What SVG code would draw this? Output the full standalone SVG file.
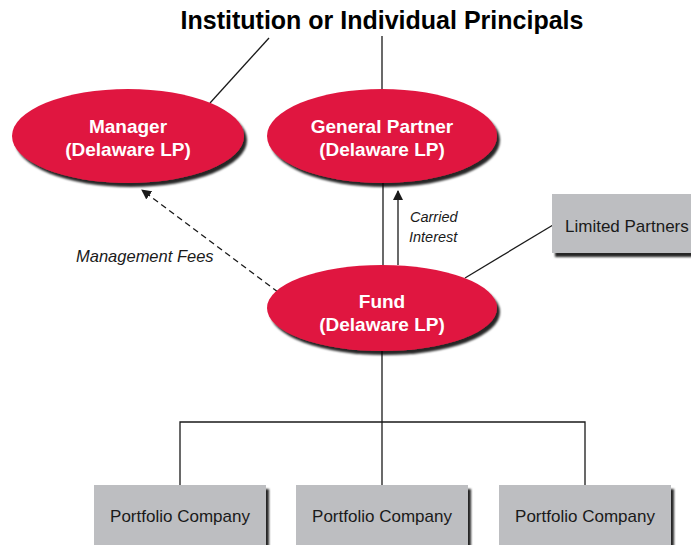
<svg xmlns="http://www.w3.org/2000/svg" width="691" height="545" viewBox="0 0 691 545">
<defs>
<style>
.ell{fill:#E0163F;}
.box{fill:#BDBEC1;}
.ln{stroke:#1a1a1a;stroke-width:1.3;fill:none;}
.dash{stroke:#1a1a1a;stroke-width:1.3;fill:none;stroke-dasharray:6 4;}
.et{font-family:"Liberation Sans",Arial,sans-serif;font-weight:bold;font-size:19px;fill:#fff;text-anchor:middle;}
.bt{font-family:"Liberation Sans",Arial,sans-serif;font-size:17px;fill:#1a1a1a;}
.it{font-family:"Liberation Sans",Arial,sans-serif;font-style:italic;fill:#1a1a1a;}
</style>
<filter id="sh" x="-10%" y="-10%" width="125%" height="130%">
<feDropShadow dx="3" dy="4" stdDeviation="1" flood-color="#000" flood-opacity="0.85"/>
</filter>
<marker id="ah" viewBox="0 0 10 10" refX="9" refY="5" markerWidth="10" markerHeight="10" markerUnits="userSpaceOnUse" orient="auto">
<path d="M0,0 L10,5 L0,10 Z" fill="#1a1a1a"/>
</marker>
</defs>
<rect width="691" height="545" fill="#fff"/>
<text x="382" y="29" font-family="'Liberation Sans',Arial,sans-serif" font-weight="bold" font-size="25" text-anchor="middle" fill="#000">Institution or Individual Principals</text>
<g id="connectors">
<line class="ln" x1="269" y1="38" x2="210" y2="103"/>
<line class="ln" x1="382" y1="36" x2="382" y2="90"/>
<line class="ln" x1="383" y1="183" x2="383" y2="266"/>
<line class="ln" x1="398" y1="265" x2="398" y2="191" marker-end="url(#ah)"/>
<line class="dash" x1="278" y1="292" x2="142" y2="190" marker-end="url(#ah)"/>
<line class="ln" x1="553" y1="225" x2="465" y2="278"/>
<line class="ln" x1="382" y1="350" x2="382" y2="485"/>
<polyline class="ln" points="180,485 180,422 585,422 585,485"/>
</g>
<g id="manager">
<ellipse class="ell" cx="128" cy="136" rx="116" ry="47" filter="url(#sh)"/>
<text class="et" x="128" y="133">Manager</text>
<text class="et" x="128" y="156">(Delaware LP)</text>
</g>
<g id="general-partner">
<ellipse class="ell" cx="382" cy="136" rx="115" ry="47" filter="url(#sh)"/>
<text class="et" x="382" y="133">General Partner</text>
<text class="et" x="382" y="156">(Delaware LP)</text>
</g>
<g id="fund">
<ellipse class="ell" cx="382" cy="308" rx="115" ry="43" filter="url(#sh)"/>
<text class="et" x="382" y="308">Fund</text>
<text class="et" x="382" y="331">(Delaware LP)</text>
</g>
<g id="limited-partners">
<rect class="box" x="552" y="194" width="145" height="59" filter="url(#sh)"/>
<text class="bt" x="565" y="232">Limited Partners</text>
</g>
<g id="labels">
<text class="it" x="410" y="222" font-size="14.5">Carried</text>
<text class="it" x="409" y="242" font-size="14.5">Interest</text>
<text class="it" x="76" y="262" font-size="16.5">Management Fees</text>
</g>
<g id="portfolio-1">
<rect class="box" x="94" y="485" width="172" height="70" filter="url(#sh)"/>
<text class="bt" x="180" y="522" text-anchor="middle">Portfolio Company</text>
</g>
<g id="portfolio-2">
<rect class="box" x="296" y="485" width="172" height="70" filter="url(#sh)"/>
<text class="bt" x="382" y="522" text-anchor="middle">Portfolio Company</text>
</g>
<g id="portfolio-3">
<rect class="box" x="499" y="485" width="172" height="70" filter="url(#sh)"/>
<text class="bt" x="585" y="522" text-anchor="middle">Portfolio Company</text>
</g>
</svg>
